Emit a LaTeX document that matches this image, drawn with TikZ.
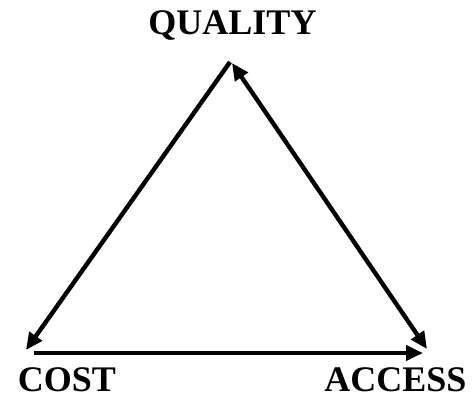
\documentclass[tikz,border=0pt]{standalone}
\usepackage{fontspec}
\setmainfont{Liberation Serif}
\usetikzlibrary{arrows.meta}
\begin{document}
\begin{tikzpicture}[x=1pt,y=-1pt,
  conn/.style={line width=4.4pt, -{Triangle[length=17pt,width=15pt]}},
  dconn/.style={line width=4.4pt, {Triangle[length=17pt,width=15pt]}-{Triangle[length=17pt,width=15pt]}},
  lbl/.style={font=\fontsize{36}{36}\selectfont\bfseries, inner sep=0pt, text depth=0pt, anchor=base}]
\useasboundingbox (0,0) rectangle (476,398);
\fill[white] (0,0) rectangle (476,398);
\node[lbl] (quality) at (232.5,35) {QUALITY};
\node[lbl] (cost) at (67,391) {COST};
\node[lbl] (access) at (395.5,391) {ACCESS};
\coordinate (apexL) at (230,62);
\coordinate (apexR) at (232,63);
\coordinate (bl) at (26,350);
\coordinate (blstart) at (34,353);
\coordinate (br) at (423,353);
\coordinate (brR) at (427,349);
\draw[conn] (apexL) -- (bl);
\draw[dconn] (apexR) -- (brR);
\draw[conn] (blstart) -- (br);
\end{tikzpicture}
\end{document}
